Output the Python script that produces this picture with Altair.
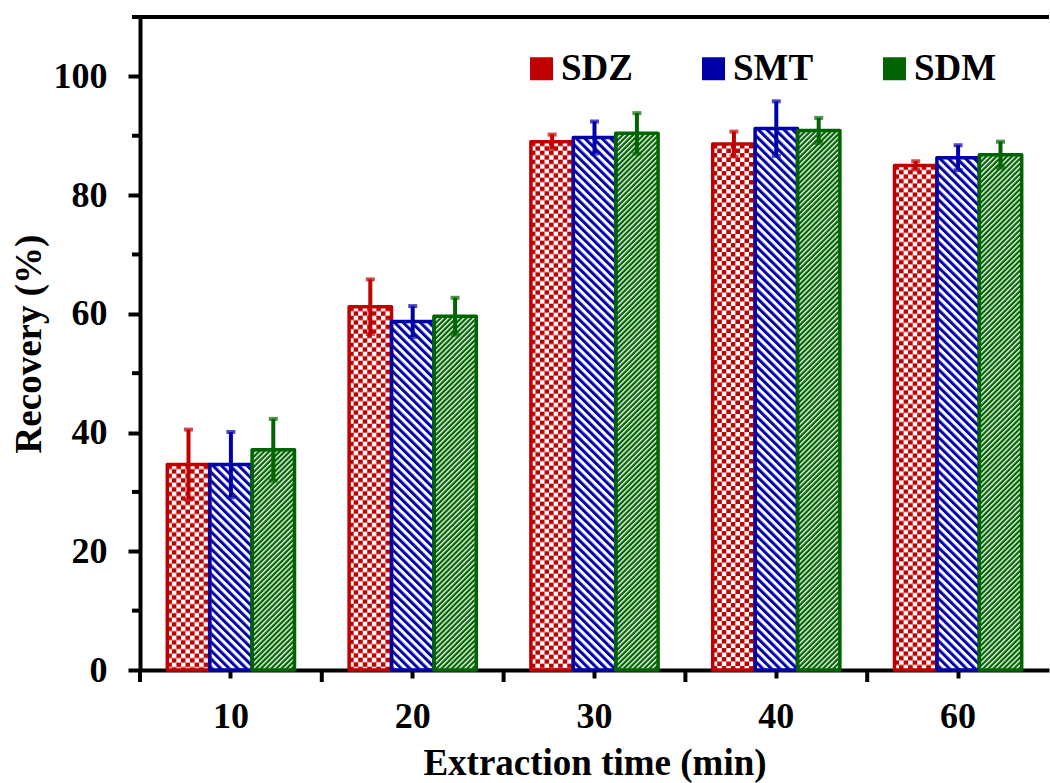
import base64

import altair as alt
import pandas as pd

# Recovery (%) of three sulfonamides versus extraction time, mean and error
times = ["10", "20", "30", "40", "60"]
series = ["SDZ", "SMT", "SDM"]
sdz = [34.6, 61.2, 89.0, 88.6, 85.0]
sdz_err = [5.9, 4.6, 1.2, 2.1, 0.7]
smt = [34.6, 58.7, 89.7, 91.2, 86.3]
smt_err = [5.5, 2.6, 2.7, 4.6, 2.1]
sdm = [37.1, 59.6, 90.4, 90.9, 86.8]
sdm_err = [5.2, 3.1, 3.4, 2.1, 2.2]
y_major = [0, 20, 40, 60, 80, 100]
y_minor = [10, 30, 50, 70, 90]
y_top = 110

colors = ["#C00000", "#0000A8", "#006400"]
FONT = "Liberation Serif"
W, H = 909, 653

rows = []
for name, vals, errs in zip(series, [sdz, smt, sdm], [sdz_err, smt_err, sdm_err]):
    for t, v, e in zip(times, vals, errs):
        rows.append({"time": t, "series": name, "value": v, "lo": v - e, "hi": v + e})
df = pd.DataFrame(rows)


def pattern_uri(defs, w=42, h=H):
    svg = (
        f'<svg xmlns="http://www.w3.org/2000/svg" width="{w}" height="{h}" '
        f'viewBox="0 0 {w} {h}" preserveAspectRatio="none">'
        f'<defs>{defs}</defs><rect width="{w}" height="{h}" fill="url(#p)"/></svg>'
    )
    return "data:image/svg+xml;base64," + base64.b64encode(svg.encode()).decode()


checker = (
    '<pattern id="p" width="9" height="9" patternUnits="userSpaceOnUse">'
    '<rect width="9" height="9" fill="#ffffff"/>'
    f'<rect width="4.5" height="4.5" fill="{colors[0]}"/>'
    f'<rect x="4.5" y="4.5" width="4.5" height="4.5" fill="{colors[0]}"/></pattern>'
)
back_hatch = (
    '<pattern id="p" width="6" height="6" patternUnits="userSpaceOnUse" '
    'patternTransform="rotate(-45)">'
    '<rect width="6" height="6" fill="#ffffff"/>'
    f'<rect width="3" height="6" fill="{colors[1]}"/></pattern>'
)
fine_hatch = (
    '<pattern id="p" width="3.6" height="3.6" patternUnits="userSpaceOnUse" '
    'patternTransform="rotate(45)">'
    f'<rect width="3.6" height="3.6" fill="{colors[2]}"/>'
    '<rect width="1.3" height="3.6" fill="#ffffff"/></pattern>'
)
patterns = dict(zip(series, [pattern_uri(checker), pattern_uri(back_hatch), pattern_uri(fine_hatch)]))

xscale = alt.Scale(domain=times, paddingInner=0, paddingOuter=0)
oscale = alt.Scale(domain=series, paddingInner=0, paddingOuter=0.644)
yscale = alt.Scale(domain=[0, y_top], nice=False, zero=True)
cscale = alt.Scale(domain=series, range=colors)

xaxis = alt.Axis(
    title="Extraction time (min)", labelAngle=0, labelFontSize=36, titleFontSize=37,
    tickSize=8, tickWidth=4, domainWidth=4, labelPadding=21, titlePadding=11, grid=False,
)
yaxis = alt.Axis(
    title="Recovery (%)", values=y_major, labelFontSize=36, titleFontSize=37,
    tickSize=12, tickWidth=4, domainWidth=4, labelPadding=21, titlePadding=5, grid=False,
)

X = alt.X("time:N", scale=xscale, axis=xaxis)
XO = alt.XOffset("series:N", scale=oscale)


def Y(field):
    return alt.Y(field, scale=yscale, axis=yaxis)


base = alt.Chart(df)

# solid bars underneath carry the legend
legend_bars = base.mark_bar().encode(
    x=X, xOffset=XO, y=Y("value:Q"),
    fill=alt.Fill(
        "series:N", scale=cscale,
        legend=alt.Legend(
            title=None, orient="none", legendX=383, legendY=33, direction="horizontal",
            symbolType="square", symbolSize=529, symbolStrokeWidth=0,
            labelFontSize=37, labelFont=FONT, labelFontWeight="bold", labelColor="black",
            labelOffset=1, columnPadding=62, padding=0,
        ),
    ),
)

# hatch fills, anchored at each bar top and clipped at the plot bottom
fills = [
    base.transform_filter(alt.datum.series == name)
    .transform_calculate(base="datum.value - 110")
    .mark_image(url=patterns[name], aspect=False, clip=True)
    .encode(x=X, xOffset=XO, y=Y("value:Q"), y2="base:Q")
    for name in series
]

outlines = base.mark_bar(filled=False, strokeWidth=3.5, strokeJoin="round").encode(
    x=X, xOffset=XO, y=Y("value:Q"),
    stroke=alt.Stroke("series:N", scale=cscale, legend=None),
)

err_lines = base.mark_rule(strokeWidth=4).encode(
    x=X, xOffset=XO, y=Y("lo:Q"), y2="hi:Q",
    color=alt.Color("series:N", scale=cscale, legend=None),
)
caps_hi = base.mark_tick(size=9, thickness=4).encode(
    x=X, xOffset=XO, y=Y("hi:Q"),
    color=alt.Color("series:N", scale=cscale, legend=None),
)
caps_lo = base.mark_tick(size=9, thickness=4).encode(
    x=X, xOffset=XO, y=Y("lo:Q"),
    color=alt.Color("series:N", scale=cscale, legend=None),
)

frame_top = alt.Chart(pd.DataFrame({"v": [y_top]})).mark_rule(strokeWidth=4, color="black").encode(
    y=Y("v:Q"), x=alt.value(-8), x2=alt.value(W),
)
minor = alt.Chart(pd.DataFrame({"v": y_minor})).mark_rule(strokeWidth=4, color="black").encode(
    y=Y("v:Q"), x=alt.value(-8), x2=alt.value(0),
)
bounds = alt.Chart(pd.DataFrame({"time": times})).mark_rule(strokeWidth=4, color="black").encode(
    x=alt.X("time:N", scale=xscale, axis=xaxis, bandPosition=0),
    y=alt.value(H), y2=alt.value(H + 12),
)

chart = (
    alt.layer(legend_bars, *fills, outlines, err_lines, caps_hi, caps_lo, frame_top, minor, bounds)
    .properties(
        width=W, height=H,
        padding={"left": 140, "top": 17, "right": 1, "bottom": 113},
        autosize=alt.AutoSizeParams(type="none"),
        background="white",
    )
    .configure_view(stroke=None)
    .configure_axis(
        labelFont=FONT, titleFont=FONT, labelFontWeight="bold", titleFontWeight="bold",
        labelColor="black", titleColor="black", domainColor="black", tickColor="black",
    )
)

chart.save("out.html", embed_options={"renderer": "svg", "actions": False})
